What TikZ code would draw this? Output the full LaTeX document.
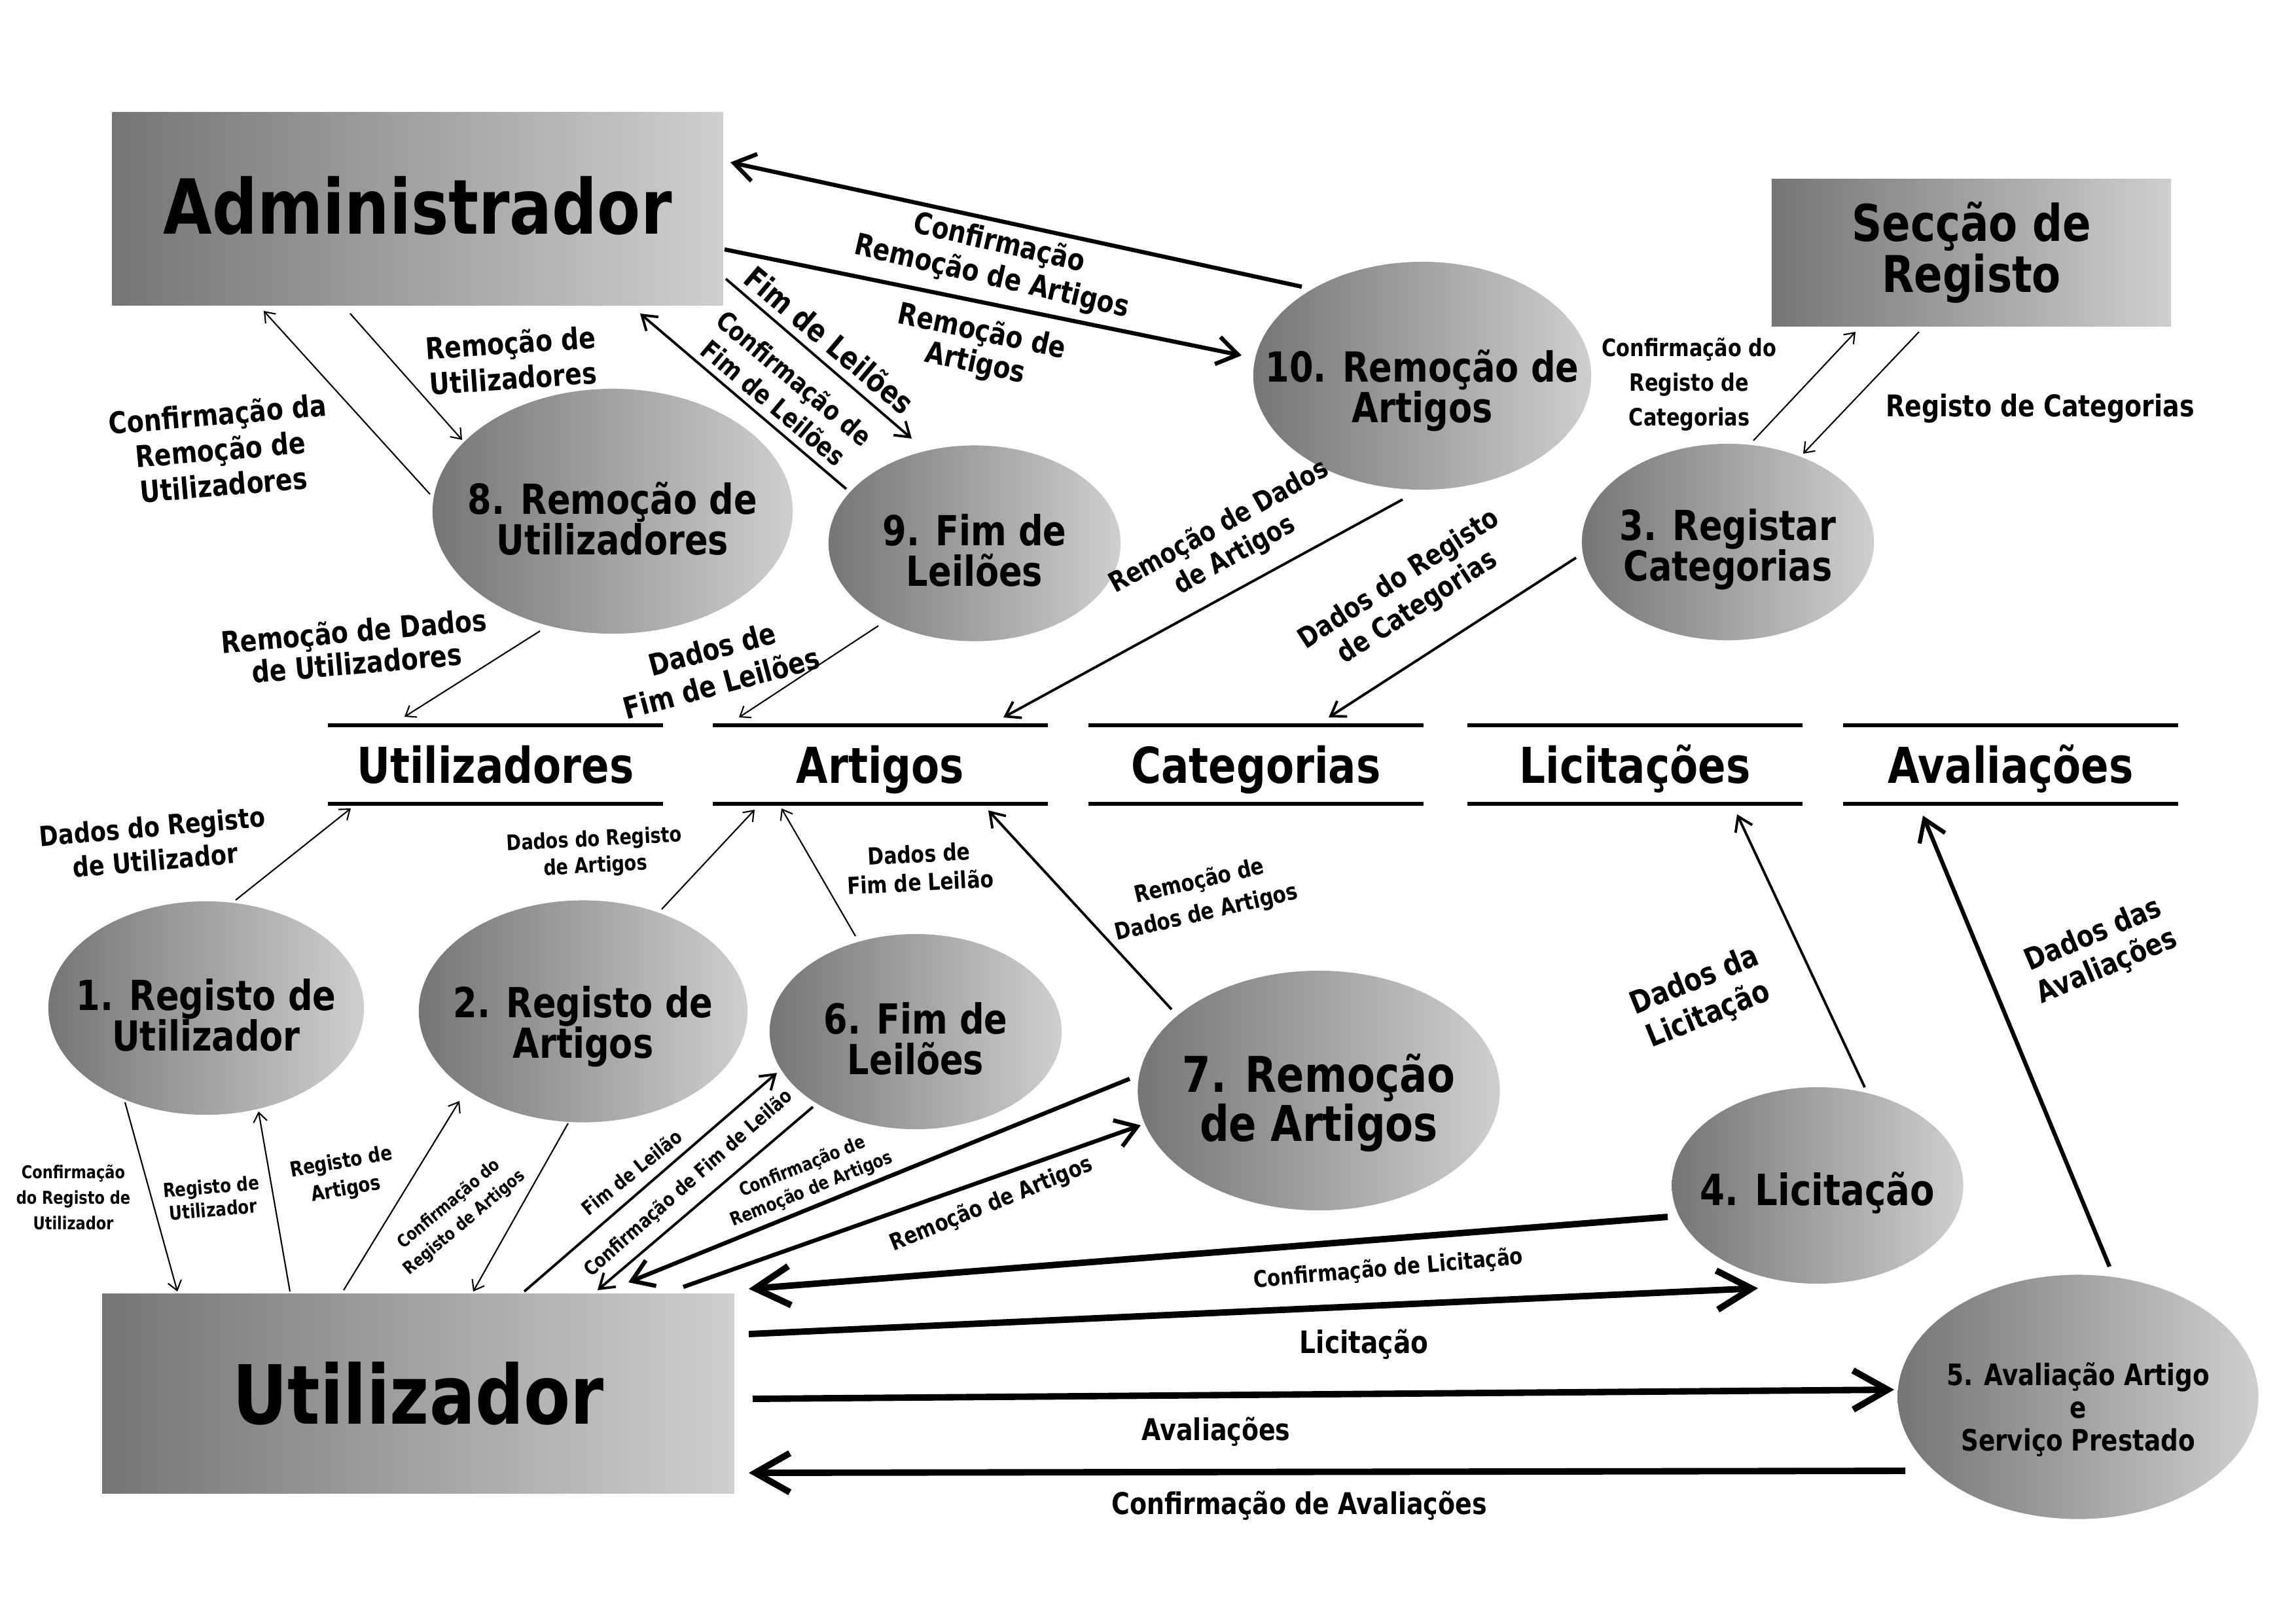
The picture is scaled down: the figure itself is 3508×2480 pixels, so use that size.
\documentclass[tikz,border=0pt]{standalone}
\usepackage{fontspec}
\setmainfont{DejaVu Sans}[FakeStretch=0.83]
\usetikzlibrary{shapes.geometric,arrows.meta,calc}
\definecolor{shdark}{gray}{0.46}
\definecolor{shlight}{gray}{0.81}
\newcommand{\fsz}[2]{\fontsize{#1}{#2}\selectfont\bfseries}
\begin{document}
\begin{tikzpicture}[x=0.01cm,y=-0.01cm,
  ent/.style={rectangle,inner sep=0pt,left color=shdark,right color=shlight,align=center},
  proc/.style={ellipse,inner sep=0pt,left color=shdark,right color=shlight},
  ptxt/.style={align=center,yshift=-0.11cm,font=\fsz{18}{17.6}},
  store/.style={minimum width=5.1cm,minimum height=1.18cm,inner sep=0pt,text height=16.3pt,text depth=0pt,font=\fsz{21.5}{24}},
  lab/.style={align=center,inner sep=1pt,font=\fsz{13}{15}},
  flow/.style={line width=0.6pt,-{Straight Barb[length=4pt,width=6pt]}},
  flowm/.style={line width=1.1pt,-{Straight Barb[length=6pt,width=8pt]}},
  flowb/.style={line width=1.8pt,-{Straight Barb[length=9pt,width=12pt]}},
  flowx/.style={line width=2.8pt,-{Straight Barb[length=15pt,width=17pt]}}]
\useasboundingbox (0,0) rectangle (3508,2480);
% external entities
\node[ent,minimum width=9.32cm,minimum height=2.95cm,font=\fsz{33}{36}] (admin) at (638,319) {\raisebox{1.1mm}{Administrador}};
\node[ent,minimum width=6.10cm,minimum height=2.25cm,font=\fsz{22}{22.3}] (secc) at (3012,386) {Secção de\\Registo};
\node[ent,minimum width=9.65cm,minimum height=3.04cm,font=\fsz{35.5}{38}] (user) at (639,2129) {Utilizador};
% processes
\node[proc,minimum width=5.50cm,minimum height=3.74cm,label={[ptxt]center:8. Remoção de\\Utilizadores}] (p8) at (936,781) {};
\node[proc,minimum width=4.46cm,minimum height=2.99cm,label={[ptxt]center:9. Fim de\\Leilões}] (p9) at (1489,830) {};
\node[proc,minimum width=5.16cm,minimum height=3.48cm,label={[ptxt,yshift=-0.12cm]center:10. Remoção de\\Artigos}] (p10) at (2173,574) {};
\node[proc,minimum width=4.46cm,minimum height=3.00cm,label={[ptxt]center:3. Registar\\Categorias}] (p3) at (2640,828) {};
\node[proc,minimum width=4.82cm,minimum height=3.26cm,label={[ptxt]center:1. Registo de\\Utilizador}] (p1) at (315,1540) {};
\node[proc,minimum width=5.02cm,minimum height=3.39cm,label={[ptxt,yshift=-0.12cm]center:2. Registo de\\Artigos}] (p2) at (891,1545) {};
\node[proc,minimum width=4.46cm,minimum height=2.98cm,label={[ptxt]center:6. Fim de\\Leilões}] (p6) at (1399,1576) {};
\node[proc,minimum width=5.53cm,minimum height=3.66cm,label={[ptxt,yshift=-0.08cm,font=\fsz{21.4}{21.2}]center:7. Remoção\\de Artigos}] (p7) at (2015,1666) {};
\node[proc,minimum width=4.45cm,minimum height=3.00cm,label={[ptxt,font=\fsz{18.7}{18}]center:4. Licitação}] (p4) at (2777,1811) {};
\node[proc,minimum width=5.51cm,minimum height=3.73cm,label={[ptxt,yshift=-0.08cm,font=\fsz{12.8}{14.2}]center:5. Avaliação Artigo\\e\\Serviço Prestado}] (p5) at (3175,2134) {};
% data stores
\foreach \n/\x/\t in {dsUtil/757/Utilizadores,dsArt/1345/Artigos,dsCat/1919/Categorias,dsLic/2498/Licitações,dsAval/3072/Avaliações}{
  \node[store] (\n) at (\x,1168) {\t};
  \draw[line width=1.6pt] (\n.north west) -- (\n.north east) (\n.south west) -- (\n.south east);
}
% flows, upper half
\draw[flowb] ($(p10)+(-184,-136)$) -- ($(admin)+(478,-71)$);
\draw[flowb] ($(admin)+(469,62)$) -- ($(p10)+(-276,-31)$);
\draw[flowm] ($(admin)+(471,107)$) -- ($(p9)+(-96,-160)$);
\draw[flowm] ($(p9)+(-196,-83)$) -- ($(admin)+(340,160)$);
\draw[flow] ($(p8)+(-279,-26)$) -- ($(admin)+(-235,156)$);
\draw[flow] ($(admin)+(-103,160)$) -- ($(p8)+(-230,-109)$);
\draw[flow] ($(p8)+(-111,183)$) -- ($(dsUtil)+(-139,-73)$);
\draw[flow] ($(p9)+(-147,126)$) -- ($(dsArt)+(-216,-72)$);
\draw[flowm] ($(p10)+(-30,189)$) -- ($(dsArt)+(188,-72)$);
\draw[flowm] ($(p3)+(-232,24)$) -- ($(dsCat)+(111,-72)$);
\draw[flow] ($(p3)+(39,-155)$) -- ($(secc)+(-177,121)$);
\draw[flow] ($(secc)+(-80,121)$) -- ($(p3)+(115,-135)$);
% flows, lower half
\draw[flow] ($(p1)+(45,-165)$) -- ($(dsUtil)+(-221,67)$);
\draw[flow] ($(p2)+(120,-156)$) -- ($(dsArt)+(-192,69)$);
\draw[flow] ($(p6)+(-92,-146)$) -- ($(dsArt)+(-151,67)$);
\draw[flowm] ($(p7)+(-225,-124)$) -- ($(dsArt)+(165,70)$);
\draw[flowm] ($(p4)+(72,-150)$) -- ($(dsLic)+(156,76)$);
\draw[flowb] ($(p5)+(48,-199)$) -- ($(dsAval)+(-134,78)$);
\draw[flow] ($(p1)+(-124,144)$) -- ($(user)+(-368,-156)$);
\draw[flow] ($(user)+(-196,-156)$) -- ($(p1)+(80,158)$);
\draw[flow] ($(user)+(-114,-158)$) -- ($(p2)+(-189,137)$);
\draw[flow] ($(p2)+(-23,171)$) -- ($(user)+(84,-156)$);
\draw[flowm] ($(user)+(162,-156)$) -- ($(p6)+(-212,63)$);
\draw[flowm] ($(p6)+(-157,115)$) -- ($(user)+(274,-158)$);
\draw[flowb] ($(p7)+(-289,-18)$) -- ($(user)+(321,-170)$);
\draw[flowb] ($(user)+(405,-163)$) -- ($(p7)+(-272,53)$);
\draw[flowx] ($(p4)+(-229,48)$) -- ($(user)+(505,-160)$);
\draw[flowx] ($(user)+(505,-91)$) -- ($(p4)+(-91,157)$);
\draw[flowx] ($(user)+(511,8)$) -- ($(p5)+(-281,-11)$);
\draw[flowx] ($(p5)+(-264,113)$) -- ($(user)+(505,121)$);
% flow labels
\node[lab,rotate=-13] (l1) at (1521,398) {Confirmação\\Remoção de Artigos};
\node[lab,rotate=-12,font=\fsz{13}{14}] (l2) at (1495,532) {Remoção de\\Artigos};
\node[lab,rotate=-40,font=\fsz{13.5}{15}] (l3) at (1268,519) {Fim de Leilões};
\node[lab,rotate=-40,font=\fsz{11.5}{14}] (l4) at (1198,596) {Confirmação de\\Fim de Leilões};
\node[lab,rotate=5,font=\fsz{13}{15.4}] (l5) at (337,686) {Confirmação da\\Remoção de\\Utilizadores};
\node[lab,rotate=4,font=\fsz{13}{15.4}] (l6) at (782,550) {Remoção de\\Utilizadores};
\node[lab,rotate=5,font=\fsz{13}{14}] (l7) at (543,988) {Remoção de Dados\\de Utilizadores};
\node[lab,rotate=15,font=\fsz{13}{15.4}] (l8) at (1095,1017) {Dados de\\Fim de Leilões};
\node[lab,rotate=29,font=\fsz{12}{14}] (l9) at (1875,827) {Remoção de Dados\\de Artigos};
\node[lab,rotate=33,font=\fsz{12.3}{14.5}] (l10) at (2152,907) {Dados do Registo\\de Categorias};
\node[lab,font=\fsz{10.4}{15}] (l11) at (2581,587) {Confirmação do\\Registo de\\Categorias};
\node[lab] (l12) at (3117,624) {Registo de Categorias};
\node[lab,rotate=5,font=\fsz{12}{14.7}] (l13) at (235,1288) {Dados do Registo\\de Utilizador};
\node[lab,rotate=3,font=\fsz{9.3}{11.4}] (l14) at (909,1304) {Dados do Registo\\de Artigos};
\node[lab,rotate=3,font=\fsz{10.2}{12.3}] (l15) at (1405,1326) {Dados de\\Fim de Leilão};
\node[lab,rotate=13,font=\fsz{10.1}{14}] (l16) at (1838,1371) {Remoção de\\Dados de Artigos};
\node[lab,rotate=22,font=\fsz{13.5}{16}] (l17) at (2600,1525) {Dados da\\Licitação};
\node[lab,rotate=23,font=\fsz{13}{15}] (l18) at (3209,1453) {Dados das\\Avaliações};
\node[lab,font=\fsz{7.7}{11}] (l19) at (112,1829) {Confirmação\\do Registo de\\Utilizador};
\node[lab,rotate=5,font=\fsz{8.4}{10}] (l20) at (324,1830) {Registo de\\Utilizador};
\node[lab,rotate=10,font=\fsz{9}{12}] (l21) at (525,1797) {Registo de\\Artigos};
\node[lab,rotate=40,font=\fsz{7.6}{10.5}] (l22) at (698,1854) {Confirmação do\\Registo de Artigos};
\node[lab,rotate=39,font=\fsz{8.5}{10}] (l23) at (965,1791) {Fim de Leilão};
\node[lab,rotate=41.5,font=\fsz{8.5}{10}] (l24) at (1052,1808) {Confirmação de Fim de Leilão};
\node[lab,rotate=22,font=\fsz{8}{10.5}] (l25) at (1233,1800) {Confirmação de\\Remoção de Artigos};
\node[lab,rotate=22,font=\fsz{10}{12}] (l26) at (1515,1840) {Remoção de Artigos};
\node[lab,rotate=5,font=\fsz{10}{12}] (l27) at (2121,1939) {Confirmação de Licitação};
\node[lab,font=\fsz{13.4}{15}] (l28) at (2084,2054) {Licitação};
\node[lab] (l29) at (1858,2187) {Avaliações};
\node[lab] (l30) at (1985,2300) {Confirmação de Avaliações};
\end{tikzpicture}
\end{document}
